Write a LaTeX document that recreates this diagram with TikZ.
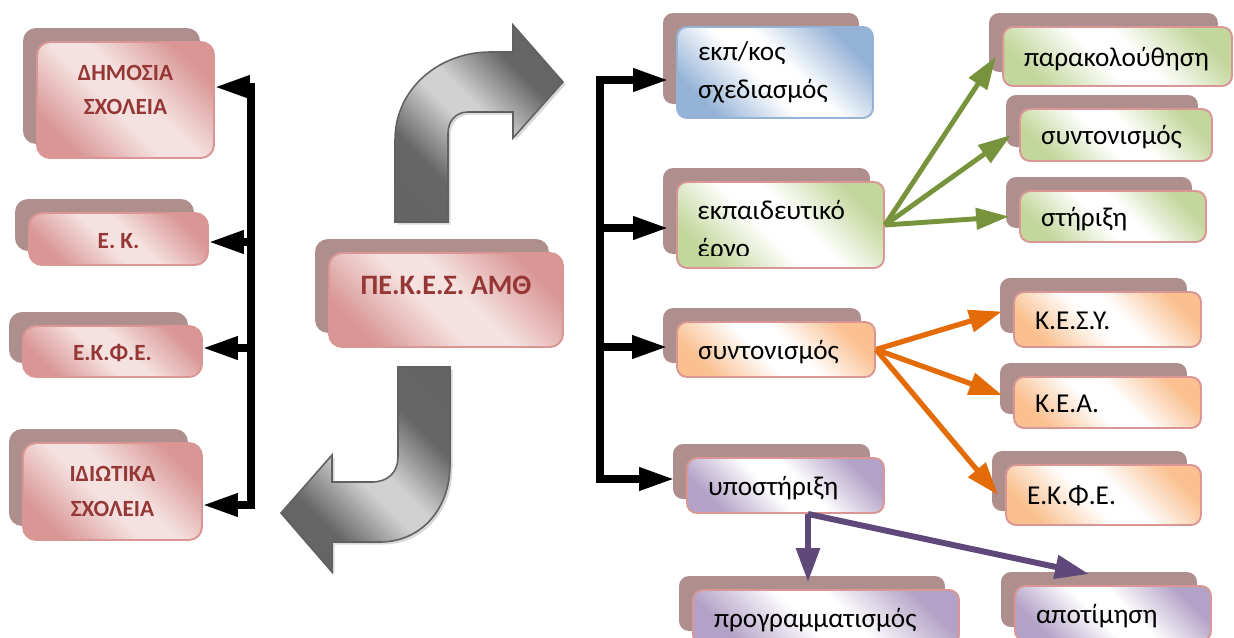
\documentclass[tikz,border=0pt]{standalone}
\usepackage{fontspec}
\setmainfont{Carlito}
\usepackage{xcolor}
\usetikzlibrary{arrows.meta,shadows,positioning}

\definecolor{pinkd}{HTML}{D99694}
\definecolor{pinkl}{HTML}{F4E1E0}
\definecolor{pinkline}{HTML}{D99694}
\definecolor{shadowcol}{HTML}{AF8F8E}
\definecolor{redtext}{HTML}{953735}
\definecolor{bluec}{HTML}{95B3D7}
\definecolor{greenc}{HTML}{C3D69B}
\definecolor{orangec}{HTML}{FAC090}
\definecolor{purplec}{HTML}{B3A2C7}
\definecolor{grnarr}{HTML}{77933C}
\definecolor{orgarr}{HTML}{E36C09}
\definecolor{purarr}{HTML}{5F497A}

% diagonal two-ended shadings
\newcommand{\declarediag}[3]{%
  \pgfdeclareverticalshading{#1}{100bp}{color(0bp)=(#2); color(25bp)=(#2);
    color(45bp)=(#3); color(55bp)=(#3); color(75bp)=(#2); color(100bp)=(#2)}}
\declarediag{pinkdiag}{pinkd}{pinkl}
\declarediag{bluediag}{bluec}{white}
\declarediag{greendiag}{greenc}{white}
\declarediag{orangediag}{orangec}{white}
\declarediag{purplediag}{purplec}{white}
\pgfdeclareverticalshading{graydiag}{100bp}{color(0bp)=(black!62); color(32bp)=(black!60);
    color(47bp)=(black!18); color(53bp)=(black!18); color(68bp)=(black!60); color(100bp)=(black!62)}

\tikzset{
  backbox/.style={general shadow={shadow xshift=-0.28cm, shadow yshift=0.28cm, fill=shadowcol},
    rounded corners=0.2cm, line width=1.1pt, draw=pinkline, shade, shading angle=-45},
  leftbox/.style={backbox, rounded corners=0.26cm, shading=pinkdiag, text=redtext,
    font=\fontsize{13.2}{19.5}\selectfont\bfseries, align=center},
  oneleft/.style={text height=0.36cm, text depth=0cm},
  rightbox/.style={backbox, text=black, font=\fontsize{15.5}{21.5}\selectfont,
    align=left, inner xsep=0.42cm},
  onelinebox/.style={rightbox, text height=12pt, text depth=0.7pt},
  bluebox/.style={rightbox, draw=bluec, shading=bluediag},
  greenbox/.style={onelinebox, shading=greendiag},
  orangebox/.style={onelinebox, shading=orangediag},
  purplebox/.style={onelinebox, shading=purplediag},
  bentarrow/.style={draw=black!62, line width=0.9pt, shade, shading=graydiag, shading angle=-45,
    drop shadow={shadow xshift=0.05cm, shadow yshift=-0.05cm, fill=black!30}},
  busarr/.style={line width=4pt, line cap=rect, -{Triangle[length=0.7cm, width=0.44cm]}},
  grnline/.style={grnarr, line width=2.8pt, -{Triangle[length=0.66cm, width=0.42cm]}},
  orgline/.style={orgarr, line width=3pt, -{Triangle[length=0.66cm, width=0.44cm]}},
  purline/.style={purarr, line width=3.4pt, -{Triangle[length=0.68cm, width=0.46cm]}}
}

\begin{document}
\begin{tikzpicture}[x=0.02cm, y=-0.02cm]
    \clip (0,0) rectangle (1234,637);

    % Bent arrows
    \draw[bentarrow] (395,222) -- (395,140) .. controls (395,88) and (440,52) .. (490,52)
        -- (513,52) -- (513,25) -- (563,82) -- (513,138) -- (513,112) -- (468,112)
        .. controls (456,112) and (448,121) .. (448,133) -- (448,222) -- cycle;
    \draw[bentarrow] (398,367) -- (450,367) -- (450,465) .. controls (450,510) and (420,542) .. (380,542)
        -- (332,542) -- (332,572) -- (281,513) -- (332,455) -- (332,482) -- (372,482)
        .. controls (388,482) and (398,472) .. (398,457) -- cycle;

    % Left column
    \node[leftbox, minimum width=3.54cm, minimum height=2.32cm] (ds) at (125.5,100)
        {ΔΗΜΟΣΙΑ\\ΣΧΟΛΕΙΑ\rule[-0.4cm]{0pt}{0.4cm}};
    \node[leftbox, oneleft, minimum width=3.58cm, minimum height=1.04cm] (ek) at (118.5,239) {Ε. Κ.};
    \node[leftbox, oneleft, minimum width=3.58cm, minimum height=1.02cm] (ekfe) at (112.5,351.5) {Ε.Κ.Φ.Ε.};
    \node[leftbox, minimum width=3.58cm, minimum height=1.94cm] (is) at (112.5,491.5)
        {ΙΔΙΩΤΙΚΑ\\ΣΧΟΛΕΙΑ};

    % Centre
    \node[leftbox, font=\fontsize{16}{19}\selectfont\bfseries, minimum width=4.68cm,
        minimum height=1.88cm, text height=0.36cm, text depth=0.6cm] (pek) at (446,300)
        {ΠΕ.Κ.Ε.Σ. ΑΜΘ};

    % Left bus
    \coordinate (lb1) at (251,87);
    \coordinate (lb2) at (251,242);
    \coordinate (lb3) at (251,348);
    \coordinate (lb4) at (251,505);
    \draw[busarr] (lb1) |- (lb4 -| is.east);
    \draw[busarr] (lb1) -- (lb1 -| ds.east);
    \draw[busarr] (lb2) -- (lb2 -| ek.east);
    \draw[busarr] (lb3) -- (lb3 -| ekfe.east);

    % Right column
    \node[bluebox, text width=3.08cm, minimum height=1.82cm] (ekp) at (775,72.5)
        {εκπ/κος\\σχεδιασμός};
    \node[greenbox, text width=3.3cm, minimum height=1.72cm] (ergo) at (780.5,225) {};
    \begin{scope}
        \clip (ergo.north west) rectangle ([yshift=0.26cm]ergo.south east);
        \node[font=\fontsize{15.5}{21.5}\selectfont, align=left, inner sep=0pt, anchor=base west]
            (ergotxt) at ([xshift=0.42cm, yshift=-1.52cm]ergo.north west) {εκπαιδευτικό\\έργο};
    \end{scope}
    \node[orangebox, text width=3.12cm, minimum height=1.1cm] (syn) at (776,349.5) {συντονισμός};
    \node[purplebox, text width=3.1cm, minimum height=1.1cm] (ypo) at (785.5,485.5) {υποστήριξη};

    \node[greenbox, text width=3.74cm, minimum height=1.18cm] (par) at (1117.5,56.5) {παρακολούθηση};
    \node[greenbox, text width=3.0cm, minimum height=1.04cm] (syng) at (1116,135) {συντονισμός};
    \node[greenbox, text width=2.88cm, minimum height=1.02cm] (str) at (1113,216.5) {στήριξη};

    \node[orangebox, text width=2.9cm, minimum height=1.1cm] (kesy) at (1107.5,319.5) {Κ.Ε.Σ.Υ.};
    \node[orangebox, text width=2.9cm, minimum height=1.02cm] (kea) at (1107.5,402.5) {Κ.Ε.Α.};
    \node[orangebox, text width=3.06cm, minimum height=1.2cm] (ekfeb) at (1103.5,495) {Ε.Κ.Φ.Ε.};

    \node[purplebox, text width=4.48cm, minimum height=1.1cm] (prog) at (826,617.5) {προγραμματισμός};
    \node[purplebox, text width=3.08cm, minimum height=1.1cm] (apot) at (1113,613.5) {αποτίμηση};

    % Right bus
    \coordinate (rb1) at (600,80);
    \coordinate (rb2) at (600,228);
    \coordinate (rb3) at (600,347);
    \coordinate (rb4) at (600,479);
    \draw[busarr] (rb1) |- ([xshift=-0.24cm]rb4 -| ypo.west);
    \draw[busarr] (rb1) -- ([xshift=-0.16cm]rb1 -| ekp.west);
    \draw[busarr] (rb2) -- ([xshift=-0.16cm]rb2 -| ergo.west);
    \draw[busarr] (rb3) -- ([xshift=-0.18cm]rb3 -| syn.west);

    % Green
    \draw[grnline] (ergo.east) -- ([xshift=-0.12cm]par.west);
    \draw[grnline] (ergo.east) -- ([xshift=-0.16cm]syng.west);
    \draw[grnline] (ergo.east) -- ([xshift=-0.2cm]str.west);

    % Orange
    \draw[orgline] (syn.east) -- ([xshift=-0.22cm, yshift=0.16cm]kesy.west);
    \draw[orgline] (syn.east) -- ([xshift=-0.22cm, yshift=0.15cm]kea.west);
    \draw[orgline] (syn.east) -- ([xshift=-0.14cm]ekfeb.west);

    % Purple
    \coordinate (ypofoot) at ([xshift=0.45cm]ypo.south);
    \draw[purline] (ypofoot) -- ([yshift=0.14cm]ypofoot |- prog.north);
    \draw[purline] (ypofoot) -- ([xshift=-0.48cm, yshift=0.22cm]apot.north);
\end{tikzpicture}
\end{document}
